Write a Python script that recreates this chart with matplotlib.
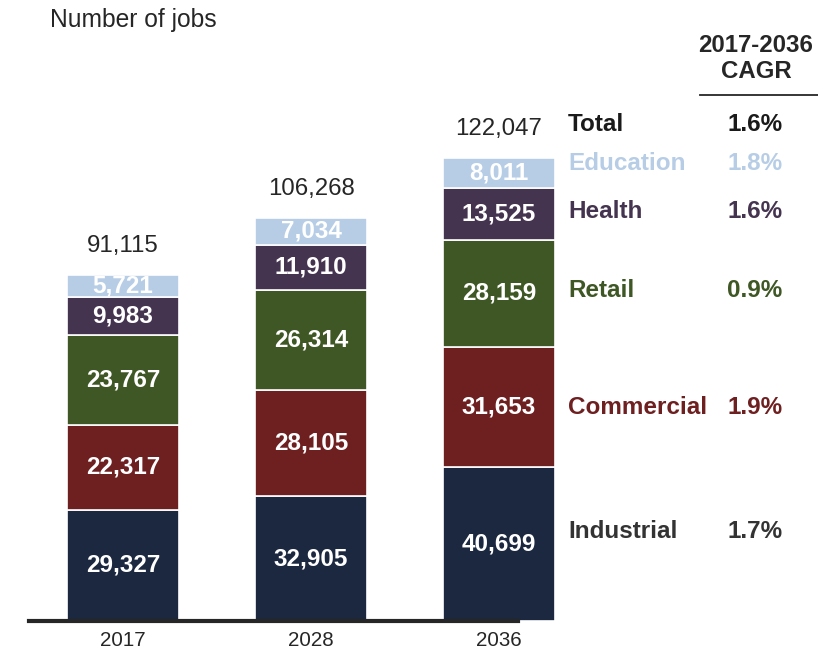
import matplotlib.pyplot as plt
from matplotlib.lines import Line2D
from matplotlib.transforms import blended_transform_factory
import numpy as np

plt.rcParams["font.family"] = ["Liberation Sans", "DejaVu Sans"]

years = ["2017", "2028", "2036"]
sectors = ["Industrial", "Commercial", "Retail", "Health", "Education"]
jobs = {
    "Industrial": [29327, 32905, 40699],
    "Commercial": [22317, 28105, 31653],
    "Retail": [23767, 26314, 28159],
    "Health": [9983, 11910, 13525],
    "Education": [5721, 7034, 8011],
}
totals = [91115, 106268, 122047]
cagr = {
    "Total": "1.6%",
    "Education": "1.8%",
    "Health": "1.6%",
    "Retail": "0.9%",
    "Commercial": "1.9%",
    "Industrial": "1.7%",
}

colors = {
    "Industrial": "#1b2840",
    "Commercial": "#6e1f20",
    "Retail": "#3f5724",
    "Health": "#45344f",
    "Education": "#b7cde6",
}
label_colors = {
    "Total": "#1a1a1a",
    "Industrial": "#333333",
    "Commercial": "#6e1f20",
    "Retail": "#3f5724",
    "Health": "#45344f",
    "Education": "#b7cde6",
}
# small vertical nudges (points) for the right-hand labels
nudge = {"Industrial": 9, "Education": 7, "Health": 2, "Retail": 2, "Commercial": -0.5}

dark = "#262626"
W, H = 818, 656
fig = plt.figure(figsize=(W / 100, H / 100), dpi=100)
ax = fig.add_axes([29 / W, 35 / H, (518 - 29) / W, 600 / H])

x = np.arange(len(years))
bottom = np.zeros(len(years))
mids = {}
for s in sectors:
    vals = np.array(jobs[s], dtype=float)
    ax.bar(x, vals, bottom=bottom, width=0.6, color=colors[s],
           edgecolor="white", linewidth=1.2, clip_on=False)
    for xi, b, v in zip(x, bottom, vals):
        ax.text(xi, b + v / 2, f"{int(v):,}", ha="center", va="center",
                color="white", fontsize=17.5, fontweight="bold")
    mids[s] = bottom[-1] + vals[-1] / 2
    bottom += vals

for xi, t in zip(x, totals):
    ax.annotate(f"{t:,}", (xi, t), xytext=(0, 21), textcoords="offset points",
                ha="center", va="center", fontsize=17.3, color=dark)

ax.set_xlim(-0.5, 2.101)
ax.set_ylim(0, 158150)
ax.set_xticks(x)
ax.set_xticklabels(years, fontsize=14.8, color=dark)
ax.tick_params(axis="x", length=0, pad=7)
ax.set_yticks([])
for side in ["left", "right", "top"]:
    ax.spines[side].set_visible(False)
ax.spines["bottom"].set_linewidth(3)
ax.spines["bottom"].set_color(dark)
ax.spines["bottom"].set_zorder(5)

# right-hand legend column with growth rates
tr = blended_transform_factory(fig.transFigure, ax.transData)
rows = [("Total", totals[-1])] + [(s, mids[s]) for s in reversed(sectors)]
for name, y in rows:
    if name == "Total":
        off = 24
    else:
        off = nudge.get(name, 0)
    for xf, txt, ha in [(568 / W, name, "left"), (755 / W, cagr[name], "center")]:
        ax.annotate(txt, (xf, y), xycoords=tr, xytext=(0, off),
                    textcoords="offset points", ha=ha, va="center",
                    fontsize=17.5, fontweight="bold", color=label_colors[name],
                    annotation_clip=False)

fig.text(50 / W, 1 - 20 / H, "Number of jobs", ha="left", va="center",
         fontsize=17.7, color=dark)
fig.text(756 / W, 1 - 45 / H, "2017-2036", ha="center", va="center",
         fontsize=17.3, fontweight="bold", color=dark)
fig.text(756 / W, 1 - 72 / H, "CAGR", ha="center", va="center",
         fontsize=17.3, fontweight="bold", color=dark)
fig.add_artist(Line2D([700 / W, 818 / W], [1 - 95 / H, 1 - 95 / H],
                      color=dark, linewidth=1.3))

fig.savefig("out.png", dpi=100, facecolor="white")
